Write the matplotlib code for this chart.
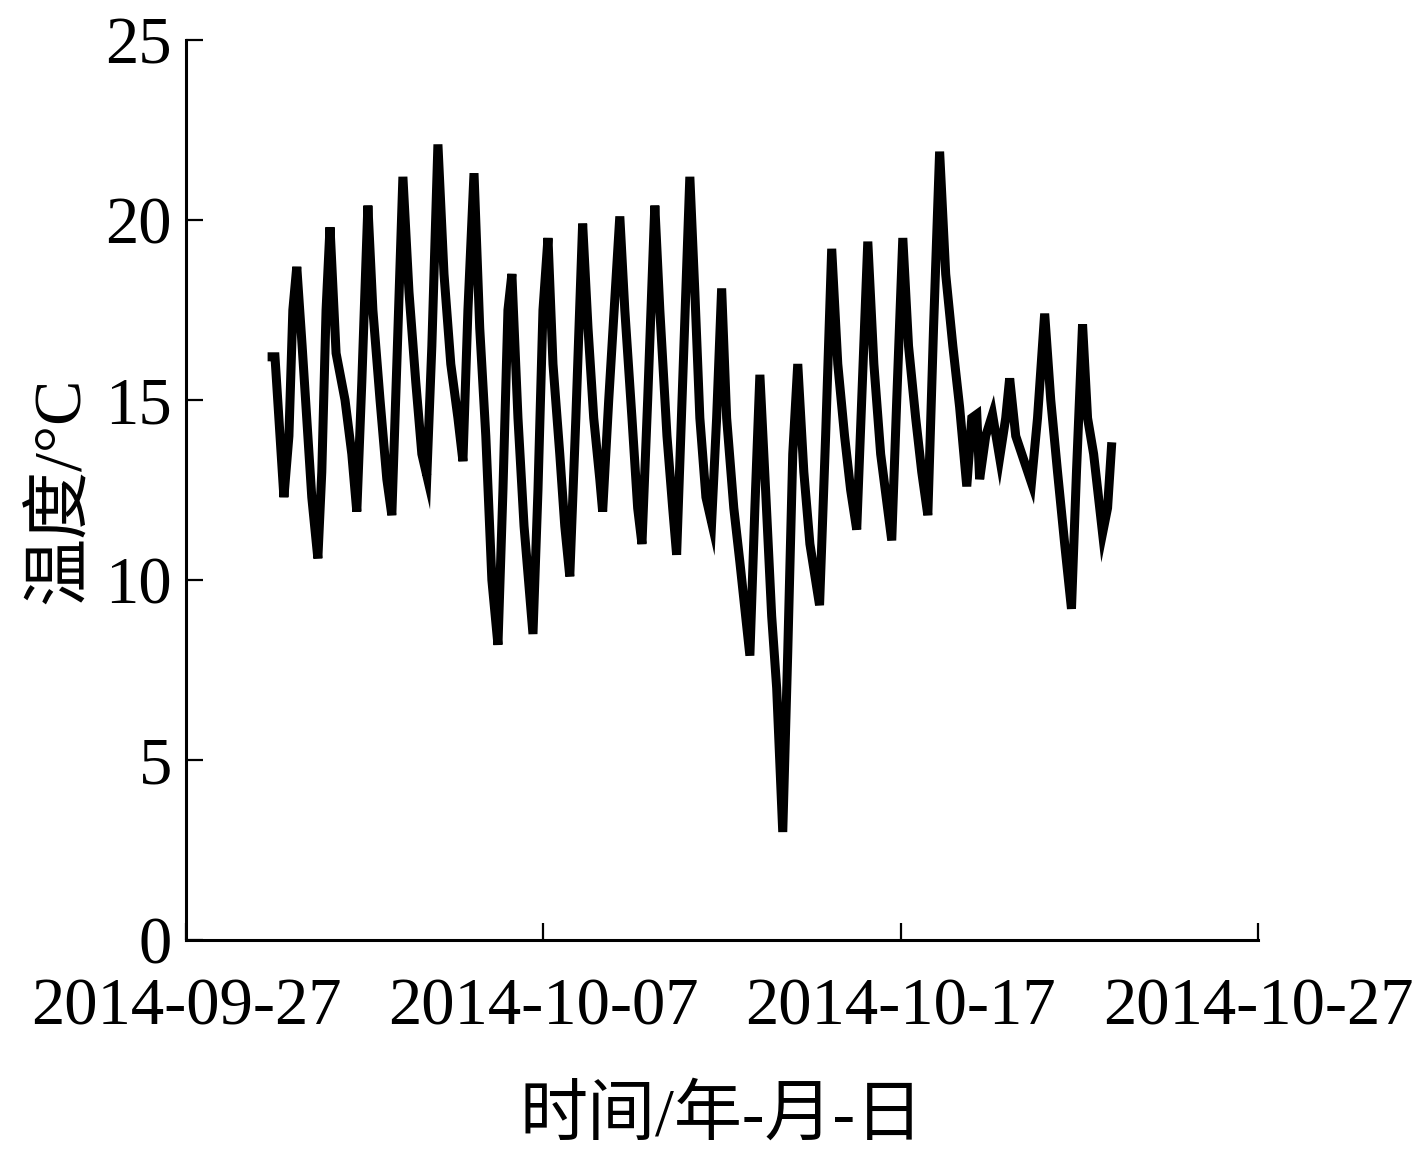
import numpy as np
import pandas as pd
import matplotlib
matplotlib.use('Agg')
from matplotlib import pyplot as plt
import matplotlib.dates as mdates

# days after 2014-09-27 00:00
jours = [2.41, 2.49, 2.60, 2.74, 2.88, 2.99, 3.10, 3.25, 3.38, 3.52,
         3.69, 3.80, 3.92, 4.03, 4.20, 4.45, 4.64, 4.78, 4.92, 5.09,
         5.23, 5.43, 5.62, 5.76, 5.90, 6.07, 6.24, 6.43, 6.60, 6.74,
         6.88, 7.05, 7.22, 7.41, 7.61, 7.75, 7.89, 8.06, 8.22, 8.39,
         8.56, 8.73, 8.87, 9.01, 9.12, 9.29, 9.46, 9.71, 9.85, 9.99,
         10.13, 10.27, 10.46, 10.60, 10.74, 10.91, 11.10, 11.25, 11.41, 11.58,
         11.66, 11.83, 12.14, 12.28, 12.48, 12.64, 12.76, 12.92, 13.12, 13.26,
         13.46, 13.62, 13.73, 13.90, 14.10, 14.24, 14.38, 14.55, 14.71, 14.85,
         14.99, 15.13, 15.33, 15.50, 15.78, 15.92, 16.06, 16.22, 16.39, 16.53,
         16.70, 16.84, 16.98, 17.12, 17.29, 17.46, 17.73, 17.90, 18.07, 18.24,
         18.43, 18.60, 18.77, 18.91, 19.08, 19.25, 19.44, 19.75, 19.89, 20.06,
         20.22, 20.42, 20.59, 20.76, 20.92, 21.09, 21.26, 21.46, 21.65, 21.85,
         21.99, 22.13, 22.21, 22.38, 22.57, 22.77, 22.94, 23.05, 23.22, 23.39,
         23.66, 23.83, 24.03, 24.20, 24.39, 24.59, 24.78, 24.92, 25.09, 25.23,
         25.40, 25.65, 25.79, 25.90]

temperature = [16.2, 16.2, 14.5, 12.3, 14.0, 17.5, 18.7, 16.5, 14.5, 12.3,
               10.6, 13.0, 17.5, 19.8, 16.3, 15.0, 13.5, 11.9, 15.5, 20.4,
               17.5, 15.0, 12.8, 11.8, 16.0, 21.2, 18.0, 15.5, 13.5, 12.9,
               16.5, 22.1, 18.5, 16.0, 14.5, 13.3, 17.5, 21.3, 17.0, 14.0,
               10.0, 8.2, 12.5, 17.5, 18.5, 14.5, 11.5, 8.5, 12.5, 17.5,
               19.5, 16.0, 13.5, 11.5, 10.1, 14.5, 19.9, 17.0, 14.5, 12.8,
               11.9, 15.0, 20.1, 17.5, 14.5, 12.0, 11.0, 15.0, 20.4, 17.5,
               14.0, 12.0, 10.7, 15.5, 21.2, 18.0, 14.5, 12.3, 11.6, 14.5,
               18.1, 14.5, 12.0, 10.5, 7.9, 12.0, 15.7, 12.5, 9.0, 7.0,
               3.0, 8.0, 13.5, 16.0, 13.0, 11.0, 9.3, 14.0, 19.2, 16.0,
               14.0, 12.5, 11.4, 15.0, 19.4, 16.0, 13.5, 11.1, 15.0, 19.5,
               16.5, 14.5, 13.0, 11.8, 17.0, 21.9, 18.5, 16.5, 14.8, 12.6,
               14.5, 14.6, 12.8, 14.0, 14.6, 13.4, 14.5, 15.6, 14.0, 13.5,
               12.7, 14.5, 17.4, 15.0, 13.0, 11.0, 9.2, 13.0, 17.1, 14.5,
               13.5, 11.3, 12.0, 13.7]

debut = pd.Timestamp('2014-09-27')
temps = debut + pd.to_timedelta(jours, unit='D')

graduations_x = pd.to_datetime(['2014-09-27', '2014-10-07', '2014-10-17', '2014-10-27'])
graduations_y = [0, 5, 10, 15, 20, 25]

polices = ['Liberation Serif', 'Noto Sans CJK SC', 'DejaVu Sans']
plt.rcParams['font.family'] = polices

fig = plt.figure(figsize=(14.15, 11.52), dpi=100)
ax = fig.add_axes([186 / 1415, 212 / 1152, 1072 / 1415, 900 / 1152])

ax.plot(temps, temperature, color='black', linewidth=6.5, solid_joinstyle='miter')

ax.set_xlim(graduations_x[0], graduations_x[-1])
ax.set_ylim(0, 25)
ax.set_xticks(graduations_x)
ax.set_yticks(graduations_y)
ax.xaxis.set_major_formatter(mdates.DateFormatter('%Y-%m-%d'))

for cote in ['top', 'right']:
    ax.spines[cote].set_visible(False)
for cote in ['left', 'bottom']:
    ax.spines[cote].set_linewidth(2.2)

ax.tick_params(axis='both', direction='in', length=12, width=1.6, labelsize=48)
ax.tick_params(axis='x', pad=27)
ax.tick_params(axis='y', pad=10)

ax.set_xlabel('时间/年-月-日', fontsize=49, labelpad=34)
ax.set_ylabel('温度/°C', fontsize=49, labelpad=9)

fig.savefig('out.png', dpi=100)
